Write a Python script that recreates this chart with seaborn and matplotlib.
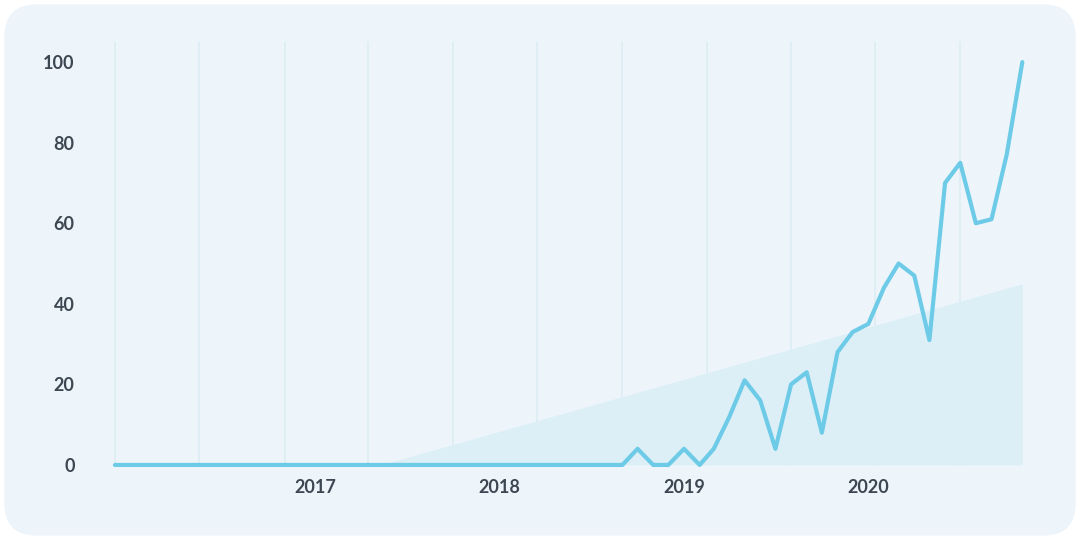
import numpy as np
import pandas as pd
import matplotlib.pyplot as plt
import seaborn as sns
from matplotlib.patches import FancyBboxPatch

# monthly interest values, Dec 2015 - Nov 2020
valores = [0] * 34 + [4, 0, 0, 4, 0, 4, 12, 21, 16, 4, 20, 23, 8, 28, 33, 35,
                      44, 50, 47, 31, 70, 75, 60, 61, 77, 100]
meses = pd.date_range("2015-12-01", periods=len(valores), freq="MS")

# trend area: starts at zero mid-2017, reaches 45 at the last month
tendencia_datas = pd.to_datetime(["2017-05-10", "2020-11-01"])
tendencia_valores = [0, 45]

anos = pd.to_datetime(["2017-01-01", "2018-01-01", "2019-01-01", "2020-01-01"])
anos_rotulos = ["2017", "2018", "2019", "2020"]
grade = pd.to_datetime(["2015-12-01", "2016-05-15", "2016-11-01", "2017-04-15", "2017-10-01",
                        "2018-03-15", "2018-09-01", "2019-02-15", "2019-08-01", "2020-01-15",
                        "2020-07-01"])

df = pd.DataFrame({"mes": meses, "valor": valores})

sns.set_style("white")
plt.rcParams['font.family'] = ['Lato', 'DejaVu Sans']

fig = plt.figure(figsize=(10.8, 5.4), dpi=100)
fundo = FancyBboxPatch((0.004, 0.008), 0.992, 0.984, boxstyle="round,pad=0,rounding_size=0.03",
                       transform=fig.transFigure, facecolor="#EDF5FB", edgecolor="none",
                       mutation_aspect=2, zorder=-10)
fig.patches.append(fundo)
ax = fig.add_axes([0.105, 0.139, 0.843, 0.746])
ax.set_zorder(5)
ax.set_facecolor("none")

for g in grade:
    ax.axvline(g, color="#DDEDF3", linewidth=1.2, zorder=0, ymax=1.05, clip_on=False)

ax.fill_between(tendencia_datas, 0, tendencia_valores, color="#DCEFF6", linewidth=0, zorder=1)
sns.lineplot(data=df, x="mes", y="valor", color="#6DCBE8", linewidth=3, ax=ax, zorder=3, clip_on=False)

ax.set_ylim(0, 100)
ax.set_xlim(meses[0] - pd.Timedelta(days=3), meses[-1] + pd.Timedelta(days=3))
ax.set_yticks([0, 20, 40, 60, 80, 100])
ax.set_xticks(anos)
ax.set_xticklabels(anos_rotulos)
ax.tick_params(axis='both', length=0, labelsize=13, labelcolor="#3D4752", pad=10)
for lbl in ax.get_xticklabels() + ax.get_yticklabels():
    lbl.set_fontweight('bold')
ax.tick_params(axis='y', pad=28)
ax.set_xlabel("")
ax.set_ylabel("")
for s in ax.spines.values():
    s.set_visible(False)

fig.savefig("out.png", dpi=100, facecolor="white")
